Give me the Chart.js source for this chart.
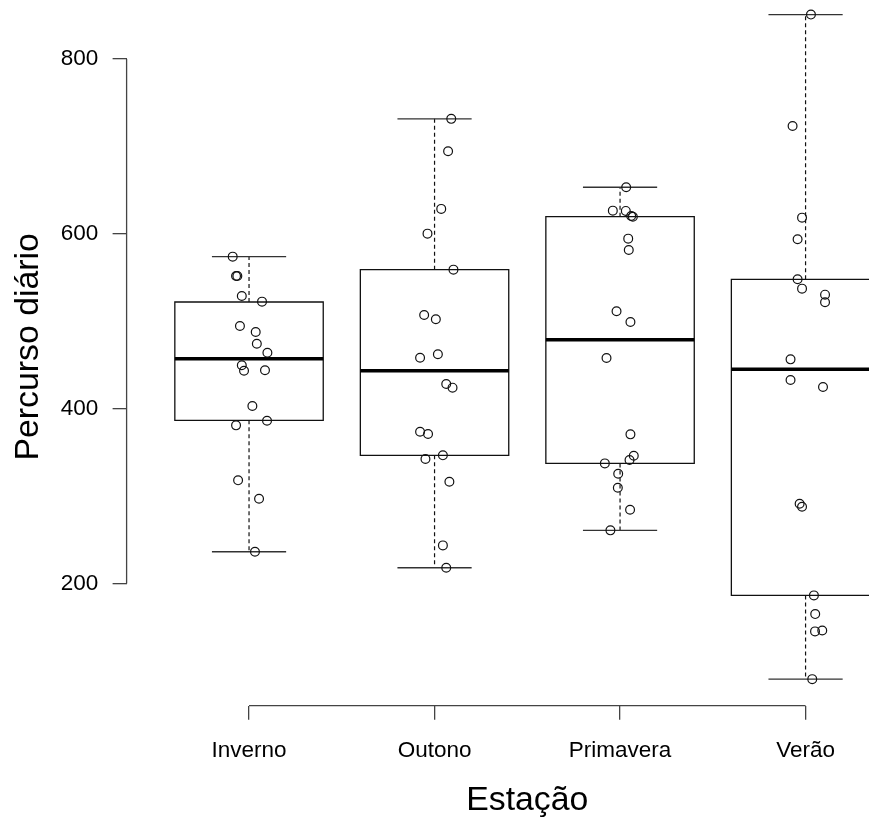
<!DOCTYPE html>
<html><head><meta charset="utf-8">
<script src="https://cdn.jsdelivr.net/npm/chart.js@4.4.1/dist/chart.umd.min.js"></script>
<style>
html,body{margin:0;padding:0;overflow:hidden;background:#fff;width:869px;height:822px;}
#wrap{position:absolute;left:0;top:-12px;width:928px;height:834px;}
canvas{display:block;}
</style></head><body>
<div id="wrap"><canvas id="c" width="928" height="834"></canvas></div>
<script>
// ---- data ----
const categories = ['Inverno', 'Outono', 'Primavera', 'Verão'];
const yTickValues = [200, 400, 600, 800];

const invernoValues   = [573.8, 551.7, 551.7, 528.8, 522.3, 494.5, 487.6, 474.2, 463.9, 449.5, 443.3, 443.8, 402.9, 386.1, 380.8, 317.9, 296.8, 236.2];
const invernoJitter   = [-0.088, -0.070, -0.063, -0.039, 0.070, -0.049, 0.036, 0.042, 0.099, -0.039, -0.027, 0.086, 0.018, 0.097, -0.070, -0.059, 0.054, 0.032];
const outonoValues    = [731.4, 694.4, 628.4, 600.1, 558.9, 507.1, 502.1, 462.1, 458.2, 428.1, 423.9, 373.5, 370.9, 346.5, 342.3, 316.3, 243.5, 217.9];
const outonoJitter    = [0.090, 0.073, 0.036, -0.038, 0.102, -0.056, 0.007, 0.018, -0.078, 0.063, 0.097, -0.078, -0.035, 0.045, -0.049, 0.080, 0.045, 0.063];
const primaveraValues = [653.2, 626.4, 626.1, 620.3, 619.5, 594.4, 581.4, 511.3, 499.0, 457.8, 370.5, 346.0, 341.1, 337.3, 325.4, 309.4, 284.2, 260.7];
const primaveraJitter = [0.033, -0.039, 0.031, 0.060, 0.069, 0.044, 0.047, -0.019, 0.056, -0.073, 0.056, 0.074, 0.051, -0.082, -0.010, -0.012, 0.054, -0.052];
const veraoValues     = [850.7, 723.3, 618.4, 593.7, 547.9, 537.2, 530.3, 521.6, 456.3, 432.7, 424.7, 291.1, 287.7, 186.3, 164.9, 145.1, 146.2, 90.5];
const veraoJitter     = [0.029, -0.070, -0.019, -0.043, -0.043, -0.019, 0.105, 0.105, -0.081, -0.081, 0.094, -0.032, -0.019, 0.045, 0.052, 0.051, 0.090, 0.036];

// box statistics (whisker ends, hinges, median) per season
const whiskerLow  = [236.2, 217.9, 260.7, 90.5];
const lowerHinge  = [386.5, 346.5, 337.3, 186.3];
const medianValue = [457.0, 443.3, 478.8, 444.9];
const upperHinge  = [521.9, 558.9, 619.5, 547.9];
const whiskerHigh = [573.8, 731.4, 653.2, 850.7];

// ---- build ----
const FONT = '"Liberation Sans", Arial, Helvetica, sans-serif';
const valueSets  = [invernoValues, outonoValues, primaveraValues, veraoValues];
const jitterSets = [invernoJitter, outonoJitter, primaveraJitter, veraoJitter];
const xTickValues = categories.map((c, i) => i + 1);
const points = [];
valueSets.forEach((vals, i) => vals.forEach((v, j) => points.push({ x: i + 1 + jitterSets[i][j], y: v })));

const BOX_W = 0.8, STAPLE_W = 0.4;
const LINE = '#111';

const rBoxplot = {
  id: 'rBoxplot',
  beforeDatasetsDraw(chart) {
    const ctx = chart.ctx, xs = chart.scales.x, ys = chart.scales.y;
    ctx.save();
    categories.forEach((c, i) => {
      const cx = xs.getPixelForValue(i + 1);
      const l = xs.getPixelForValue(i + 1 - BOX_W / 2);
      const r = xs.getPixelForValue(i + 1 + BOX_W / 2);
      const sl = xs.getPixelForValue(i + 1 - STAPLE_W / 2);
      const sr = xs.getPixelForValue(i + 1 + STAPLE_W / 2);
      const yLo = ys.getPixelForValue(whiskerLow[i]);
      const yQ1 = ys.getPixelForValue(lowerHinge[i]);
      const yMd = ys.getPixelForValue(medianValue[i]);
      const yQ3 = ys.getPixelForValue(upperHinge[i]);
      const yHi = ys.getPixelForValue(whiskerHigh[i]);
      ctx.strokeStyle = LINE;
      ctx.lineWidth = 1.2;
      ctx.setLineDash([4, 3]);
      ctx.beginPath();
      ctx.moveTo(cx, yQ3); ctx.lineTo(cx, yHi);
      ctx.moveTo(cx, yQ1); ctx.lineTo(cx, yLo);
      ctx.stroke();
      ctx.setLineDash([]);
      ctx.strokeStyle = '#333';
      ctx.lineWidth = 1.3;
      ctx.beginPath();
      ctx.moveTo(sl, yHi); ctx.lineTo(sr, yHi);
      ctx.moveTo(sl, yLo); ctx.lineTo(sr, yLo);
      ctx.stroke();
      ctx.strokeStyle = LINE;
      ctx.beginPath();
      ctx.rect(l, yQ3, r - l, yQ1 - yQ3);
      ctx.stroke();
      ctx.lineWidth = 3.5;
      ctx.strokeStyle = '#000';
      ctx.beginPath();
      ctx.moveTo(l, yMd); ctx.lineTo(r, yMd);
      ctx.stroke();
    });
    ctx.restore();
  },
  afterDraw(chart) {
    const ctx = chart.ctx, xs = chart.scales.x, ys = chart.scales.y;
    ctx.save();
    ctx.strokeStyle = '#444';
    ctx.lineWidth = 1.3;
    ctx.beginPath();
    const ay = chart.chartArea.bottom, ax = chart.chartArea.left;
    ctx.moveTo(xs.getPixelForValue(xTickValues[0]), ay);
    ctx.lineTo(xs.getPixelForValue(xTickValues[xTickValues.length - 1]), ay);
    ctx.moveTo(ax, ys.getPixelForValue(yTickValues[0]));
    ctx.lineTo(ax, ys.getPixelForValue(yTickValues[yTickValues.length - 1]));
    ctx.stroke();
    ctx.restore();
  }
};

const gridOpts = { display: true, drawOnChartArea: false, drawTicks: true, tickLength: 14, color: '#444', lineWidth: 1.3 };

new Chart(document.getElementById('c'), {
  type: 'scatter',
  data: {
    datasets: [{
      data: points,
      pointStyle: 'circle',
      pointRadius: 4.4,
      pointHoverRadius: 4.4,
      borderWidth: 1.2,
      borderColor: '#111',
      backgroundColor: 'rgba(0,0,0,0)',
      clip: false
    }]
  },
  options: {
    responsive: false,
    devicePixelRatio: 1,
    animation: false,
    events: [],
    layout: { padding: 0, autoPadding: false },
    plugins: { legend: { display: false }, tooltip: { enabled: false } },
    scales: {
      x: {
        type: 'linear', position: 'bottom', min: 0.34, max: 4.66, bounds: 'data',
        afterBuildTicks: s => { s.ticks = xTickValues.map(v => ({ value: v })); },
        afterFit: s => { s.height = 116.3; s.paddingLeft = 0; s.paddingRight = 0; },
        ticks: { autoSkip: false, maxRotation: 0, minRotation: 0, padding: 18, color: '#000',
                 font: { family: FONT, size: 22.5 }, callback: (v, i) => categories[i] },
        grid: gridOpts,
        border: { display: false },
        title: { display: true, text: 'Estação', color: '#000', font: { family: FONT, size: 33.8 }, padding: { top: 0, bottom: 1.4 } }
      },
      y: {
        type: 'linear', min: 60.1, max: 881.1, bounds: 'data',
        afterBuildTicks: s => { s.ticks = yTickValues.map(v => ({ value: v })); },
        afterFit: s => { s.width = 126.6; s.paddingTop = 0; s.paddingBottom = 0; },
        ticks: { autoSkip: false, padding: 14.4, color: '#000', font: { family: FONT, size: 22.5 }, callback: v => String(v) },
        grid: gridOpts,
        border: { display: false },
        title: { display: true, text: 'Percurso diário', color: '#000', font: { family: FONT, size: 33.8 }, padding: { top: 8, bottom: 0 } }
      }
    }
  },
  plugins: [rBoxplot]
});
</script>
</body></html>
